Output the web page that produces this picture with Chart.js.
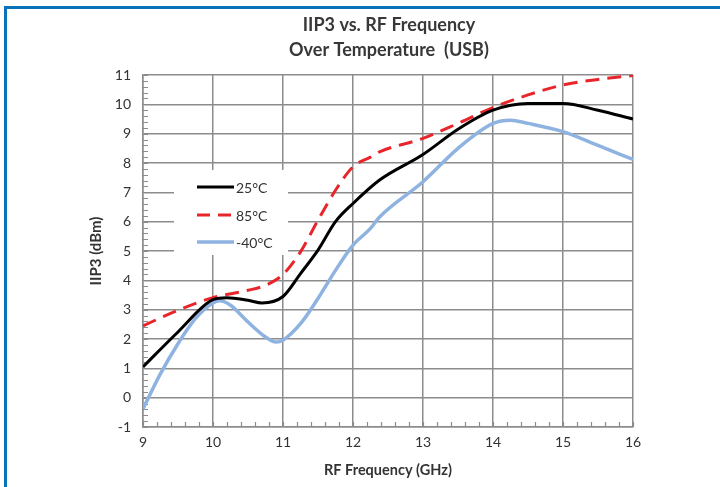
<!DOCTYPE html>
<html>
<head>
<meta charset="utf-8">
<script src="https://cdn.jsdelivr.net/npm/chart.js@4/dist/chart.umd.min.js"></script>
<style>
  html, body { margin: 0; padding: 0; background: #fff; }
  #frame { position: absolute; left: 4px; top: 6px; width: 716px; height: 481px;
           border-top: 3px solid #0a72b8; border-left: 3px solid #0a72b8; box-sizing: border-box; }
  #wrap { position: absolute; left: 0; top: 0; width: 720px; height: 487px; }
</style>
</head>
<body>
<div id="frame"></div>
<div id="wrap"><canvas id="c" width="720" height="487"></canvas></div>
<script>
const freq25 = [9, 9.5, 10, 10.2, 10.5, 10.7, 11, 11.25, 11.5, 11.75, 12, 12.38, 13, 13.5, 14, 14.5, 15, 15.5, 16];
const iip3_25 = [1.05, 2.24, 3.34, 3.41, 3.32, 3.23, 3.45, 4.23, 5.03, 6.0, 6.62, 7.42, 8.29, 9.15, 9.8, 10.03, 10.03, 9.8, 9.5];

const freq85 = [9, 9.5, 10, 10.5, 10.75, 11, 11.25, 11.5, 11.75, 12, 12.25, 12.38, 13, 13.5, 14, 14.5, 15, 15.5, 16];
const iip3_85 = [2.45, 2.98, 3.41, 3.66, 3.83, 4.2, 4.97, 6.05, 7.07, 7.87, 8.2, 8.38, 8.84, 9.35, 9.89, 10.32, 10.66, 10.85, 10.98];

const freqM40 = [9, 9.25, 9.5, 9.75, 10, 10.1, 10.25, 10.5, 10.75, 10.9, 11, 11.25, 11.5, 11.75, 12, 12.25, 12.38, 13, 13.5, 14, 14.25, 14.5, 15, 15.5, 16];
const iip3_M40 = [-0.38, 0.82, 1.84, 2.7, 3.23, 3.3, 3.15, 2.58, 2.07, 1.9, 1.96, 2.52, 3.38, 4.34, 5.2, 5.77, 6.16, 7.36, 8.5, 9.35, 9.46, 9.35, 9.07, 8.6, 8.12];

const seriesLabels = ['25°C', '85°C', '-40°C'];
const titleLines = ['IIP3 vs. RF Frequency', 'Over Temperature  (USB)'];
const xTicks = [9, 10, 11, 12, 13, 14, 15, 16];
const yTicks = [-1, 0, 1, 2, 3, 4, 5, 6, 7, 8, 9, 10, 11];

const FONT = "Lato, 'Open Sans', sans-serif";
const pts = (xs, ys) => xs.map((x, i) => ({ x: x, y: ys[i] }));

const minorTicks = {
  id: 'minorTicks',
  beforeDatasetsDraw(chart) {
    const ctx = chart.ctx, xs = chart.scales.x, ys = chart.scales.y;
    const a = chart.chartArea;
    ctx.save();
    ctx.strokeStyle = '#8c8c8c';
    ctx.lineWidth = 1.2;
    ctx.beginPath();
    for (let k = 0; k <= 60; k++) {
      const v = -1 + k * 0.2;
      const py = Math.round(ys.getPixelForValue(v)) + 0.5;
      ctx.moveTo(a.left, py); ctx.lineTo(a.left + 5, py);
    }
    for (let k = 0; k <= 35; k++) {
      const v = 9 + k * 0.2;
      const px = Math.round(xs.getPixelForValue(v)) + 0.5;
      ctx.moveTo(px, a.bottom); ctx.lineTo(px, a.bottom - 5);
    }
    ctx.stroke();
    ctx.fillStyle = '#fff';
    ctx.fillRect(174, 170, 114, 85);
    ctx.restore();
  },
  afterDraw(chart) {
    const ctx = chart.ctx, a = chart.chartArea;
    ctx.save();
    ctx.fillStyle = '#383838';
    ctx.font = 'bold 18px ' + FONT;
    ctx.textAlign = 'center';
    ctx.textBaseline = 'middle';
    const cx = (a.left + a.right) / 2 + 1;
    ctx.fillText(titleLines[0], cx, 25);
    ctx.fillText(titleLines[1], cx, 50);
    ctx.restore();
  }
};

const legendPlugin = {
  id: 'insideLegend',
  afterDatasetsDraw(chart) {
    const ctx = chart.ctx;
    const rows = [187, 215, 242];
    ctx.save();
    chart.data.datasets.forEach((ds, i) => {
      ctx.strokeStyle = ds.borderColor;
      ctx.lineWidth = ds.borderWidth;
      ctx.setLineDash(i === 1 ? [13, 8] : []);
      ctx.beginPath();
      ctx.moveTo(197, rows[i]); ctx.lineTo(234, rows[i]);
      ctx.stroke();
      ctx.setLineDash([]);
      ctx.fillStyle = '#333';
      ctx.font = '14px ' + FONT;
      ctx.textBaseline = 'middle';
      ctx.textAlign = 'left';
      ctx.fillText(ds.label, 236, rows[i] + 1);
    });
    ctx.restore();
  }
};

new Chart(document.getElementById('c'), {
  type: 'line',
  data: {
    datasets: [
      { label: seriesLabels[0], data: pts(freq25, iip3_25), borderColor: '#000000', borderWidth: 3,
        pointRadius: 0, cubicInterpolationMode: 'monotone', fill: false },
      { label: seriesLabels[1], data: pts(freq85, iip3_85), borderColor: '#e8252b', borderWidth: 3,
        borderDash: [14, 8], pointRadius: 0, cubicInterpolationMode: 'monotone', fill: false },
      { label: seriesLabels[2], data: pts(freqM40, iip3_M40), borderColor: '#8fb3e0', borderWidth: 3.5,
        pointRadius: 0, cubicInterpolationMode: 'monotone', fill: false }
    ]
  },
  options: {
    responsive: false,
    animation: false,
    layout: { padding: { left: 84, right: 87, top: 75, bottom: 0 } },
    plugins: {
      legend: { display: false },
      tooltip: { enabled: false },
      title: { display: false }
    },
    scales: {
      x: {
        type: 'linear', min: 9, max: 16,
        afterBuildTicks: s => { s.ticks = xTicks.map(v => ({ value: v })); },
        ticks: { color: '#333', font: { family: FONT, size: 14 }, padding: 7 },
        grid: { color: '#8c8c8c', lineWidth: 1.5, drawTicks: false },
        border: { color: '#8c8c8c', width: 1.5 },
        title: { display: true, text: 'RF Frequency (GHz)', color: '#333',
                 font: { family: FONT, size: 14.5, weight: 'bold' }, padding: { top: 4, bottom: 8 } },
        afterFit: s => { s.height = 60; }
      },
      y: {
        type: 'linear', min: -1, max: 11,
        afterBuildTicks: s => { s.ticks = yTicks.map(v => ({ value: v })); },
        ticks: { color: '#333', font: { family: FONT, size: 14 }, padding: 12 },
        grid: { color: '#8c8c8c', lineWidth: 1.5, drawTicks: false },
        border: { color: '#8c8c8c', width: 1.5 },
        title: { display: true, text: 'IIP3 (dBm)', color: '#333',
                 font: { family: FONT, size: 15, weight: 'bold' }, padding: { top: 3, bottom: 4 } },
        afterFit: s => { s.width = 59; }
      }
    }
  },
  plugins: [minorTicks, legendPlugin]
});
</script>
</body>
</html>
